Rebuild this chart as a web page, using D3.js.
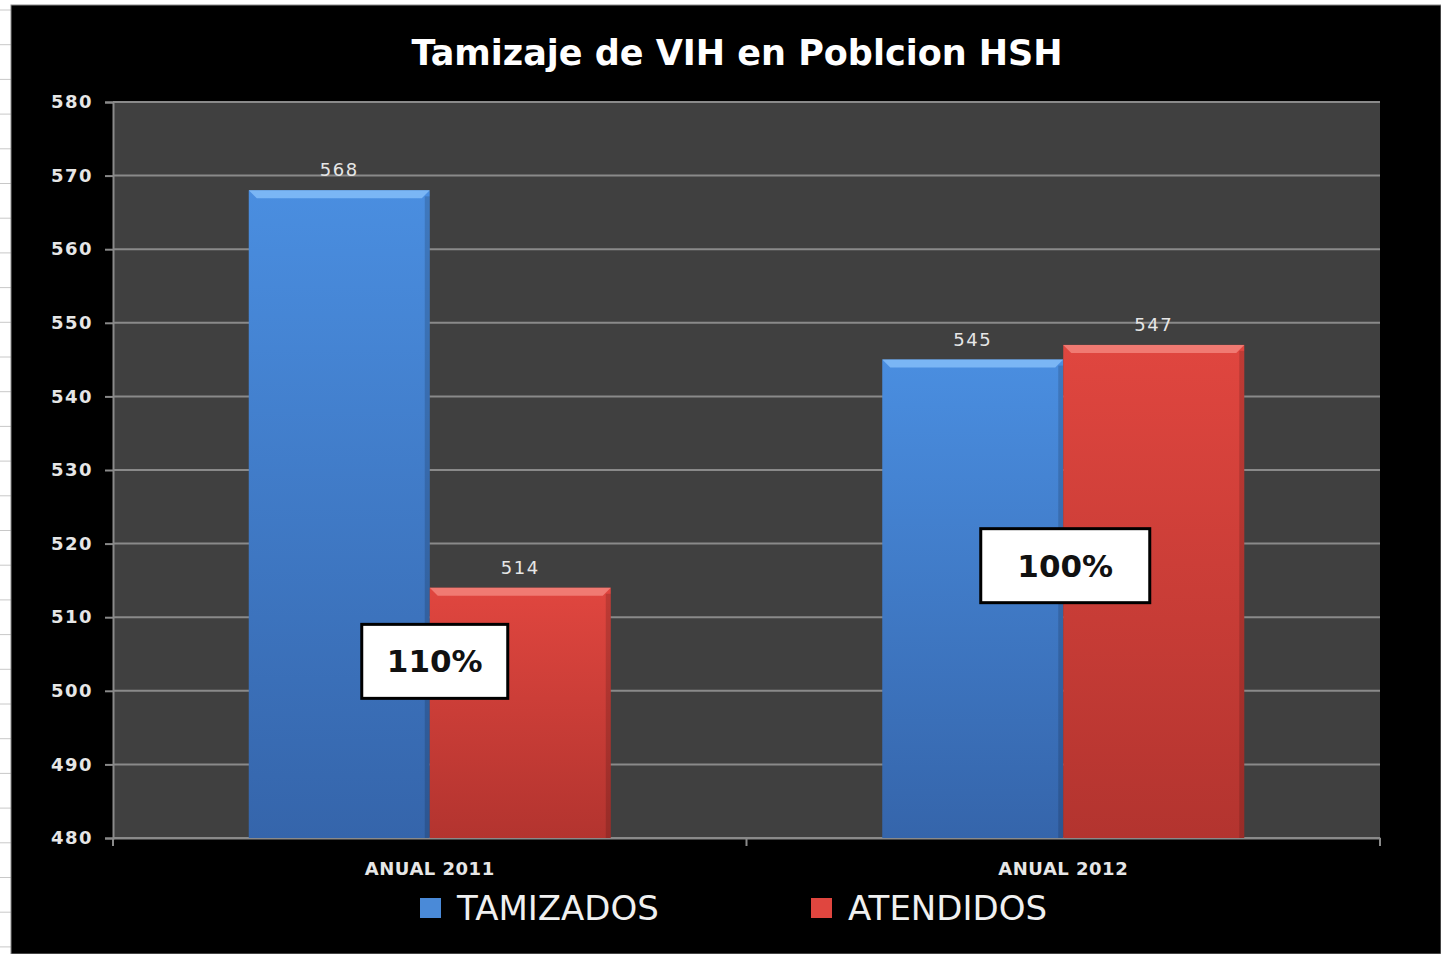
<!DOCTYPE html>
<html>
<head>
<meta charset="utf-8">
<script src="https://cdn.jsdelivr.net/npm/d3@7"></script>
<style>
  html, body { margin: 0; padding: 0; background: #fff; }
  svg { display: block; }
</style>
</head>
<body>
<div id="chart"></div>
<script>
//***************** data *******************/
var categories = ["ANUAL 2011", "ANUAL 2012"];
var seriesNames = ["TAMIZADOS", "ATENDIDOS"];
var tamizados = [568, 545];
var atendidos = [514, 547];
var yTicks = [480, 490, 500, 510, 520, 530, 540, 550, 560, 570, 580];
var boxLabels = ["110%", "100%"];
// which value each annotation box sits at (centre of box)
var boxValues = [504, 517];

//************* set dimensions ***************/
var W = 1441, H = 954;
var margin = {left: 113, right: 61, top: 102, bottom: 116};
var width = W - margin.left - margin.right,
    height = H - margin.top - margin.bottom;

var svg = d3.select("#chart").append("svg")
    .attr("width", W)
    .attr("height", H);

// spreadsheet peeking out on the left / top
svg.append("rect").attr("width", W).attr("height", H).attr("fill", "#fff");
var sheetLines = d3.range(10, H, 34.7);
svg.selectAll(".sheet").data(sheetLines).enter().append("line")
    .attr("x1", 0).attr("x2", 11)
    .attr("y1", function(d) { return d; }).attr("y2", function(d) { return d; })
    .attr("stroke", "#c8c8c8");
svg.append("rect").attr("x", 11).attr("y", 5).attr("width", W - 11).attr("height", H - 5)
    .attr("fill", "#000").attr("stroke", "#888").attr("stroke-width", 1);

var defs = svg.append("defs");
function grad(id, top, bottom) {
  var g = defs.append("linearGradient").attr("id", id)
      .attr("x1", 0).attr("y1", 0).attr("x2", 0).attr("y2", 1);
  g.append("stop").attr("offset", "0%").attr("stop-color", top);
  g.append("stop").attr("offset", "100%").attr("stop-color", bottom);
}
grad("gBlue", "#4a8ee0", "#3565ab");
grad("gRed", "#e0463f", "#b3342f");
var colors = ["url(#gBlue)", "url(#gRed)"];
var bevel = ["#7ab6f5", "#f07a72"];
var legendColors = ["#4a8ad8", "#e0463f"];

var g = svg.append("g")
    .attr("transform", "translate(" + margin.left + "," + margin.top + ")");

// plot background
g.append("rect").attr("width", width).attr("height", height).attr("fill", "#404040");

//***************** scales *******************/
var x0 = d3.scaleBand().domain(categories).range([0, width]).paddingInner(0).paddingOuter(0);
var x1 = d3.scaleBand().domain(seriesNames).range([0, x0.bandwidth()]).paddingInner(0).paddingOuter(0.75);
var y = d3.scaleLinear().domain([480, 580]).range([height, 0]);

var labelFont = "Verdana, 'DejaVu Sans', sans-serif";

// grid
g.selectAll(".grid").data(yTicks).enter().append("line")
    .attr("x1", 0).attr("x2", width)
    .attr("y1", function(d) { return y(d); }).attr("y2", function(d) { return y(d); })
    .attr("stroke", "#8a8a8a").attr("stroke-width", 2);

// y axis
var yAxis = g.append("g")
    .call(d3.axisLeft(y).tickValues(yTicks).tickSize(8).tickPadding(12));
yAxis.select(".domain").attr("stroke", "#8a8a8a").attr("stroke-width", 2);
yAxis.selectAll(".tick line").attr("stroke", "#8a8a8a").attr("stroke-width", 2);
yAxis.selectAll("text").attr("fill", "#e6e6e6")
    .style("font-family", labelFont).style("font-size", "18px").style("font-weight", "bold")
    .style("letter-spacing", "1.5px");

// x axis
var xAxis = g.append("g").attr("transform", "translate(0," + height + ")")
    .call(d3.axisBottom(x0).tickSize(0).tickPadding(24));
xAxis.select(".domain").attr("stroke", "#8a8a8a").attr("stroke-width", 2);
xAxis.selectAll("text").attr("fill", "#e6e6e6")
    .style("font-family", labelFont).style("font-size", "18px").style("font-weight", "bold")
    .style("letter-spacing", "0.5px");
var xBounds = [0, x0.bandwidth(), width];
g.selectAll(".xt").data(xBounds).enter().append("line")
    .attr("x1", function(d) { return d; }).attr("x2", function(d) { return d; })
    .attr("y1", height).attr("y2", height + 8)
    .attr("stroke", "#8a8a8a").attr("stroke-width", 2);

//***************** bars *******************/
var rows = [];
categories.forEach(function(c, i) {
  rows.push({cat: c, s: 0, v: tamizados[i]});
  rows.push({cat: c, s: 1, v: atendidos[i]});
});

var bars = g.selectAll(".bar").data(rows).enter().append("g");
bars.append("rect")
    .attr("x", function(d) { return x0(d.cat) + x1(seriesNames[d.s]); })
    .attr("y", function(d) { return y(d.v); })
    .attr("width", x1.bandwidth())
    .attr("height", function(d) { return height - y(d.v); })
    .attr("fill", function(d) { return colors[d.s]; });
// bevel on top
bars.append("polygon")
    .attr("points", function(d) {
      var l = x0(d.cat) + x1(seriesNames[d.s]), r = l + x1.bandwidth(), t = y(d.v);
      return [[l, t], [r, t], [r - 8, t + 8], [l + 8, t + 8]].join(" ");
    })
    .attr("fill", function(d) { return bevel[d.s]; });
// shaded sides
bars.append("rect")
    .attr("x", function(d) { return x0(d.cat) + x1(seriesNames[d.s]) + x1.bandwidth() - 5; })
    .attr("y", function(d) { return y(d.v) + 6; })
    .attr("width", 5)
    .attr("height", function(d) { return height - y(d.v) - 6; })
    .attr("fill", "#000").attr("opacity", 0.15);

// value labels
bars.append("text")
    .attr("x", function(d) { return x0(d.cat) + x1(seriesNames[d.s]) + x1.bandwidth() / 2; })
    .attr("y", function(d) { return y(d.v) - 14; })
    .attr("text-anchor", "middle")
    .attr("fill", "#e6e6e6")
    .style("font-family", labelFont).style("font-size", "18px")
    .style("letter-spacing", "1.5px")
    .text(function(d) { return d.v; });

//***************** annotation boxes *******************/
var boxes = g.selectAll(".box").data(categories).enter().append("g")
    .attr("transform", function(d, i) {
      return "translate(" + (x0(d) + x0.bandwidth() / 2) + "," + y(boxValues[i]) + ")";
    });
var bw = [146, 169], bh = 74;
boxes.append("rect")
    .attr("x", function(d, i) { return -bw[i] / 2 + (i === 0 ? 5 : 2); })
    .attr("y", -bh / 2)
    .attr("width", function(d, i) { return bw[i]; })
    .attr("height", bh)
    .attr("fill", "#fff").attr("stroke", "#000").attr("stroke-width", 3);
boxes.append("text")
    .attr("x", function(d, i) { return i === 0 ? 5 : 2; })
    .attr("y", 11)
    .attr("text-anchor", "middle")
    .attr("fill", "#111")
    .style("font-family", "'DejaVu Sans', sans-serif").style("font-size", "31px").style("font-weight", "bold")
    .text(function(d, i) { return boxLabels[i]; });

//***************** title *******************/
svg.append("text")
    .attr("x", 737).attr("y", 65)
    .attr("text-anchor", "middle")
    .attr("fill", "#fff")
    .style("font-family", "'DejaVu Sans', sans-serif").style("font-size", "35px").style("font-weight", "bold")
    .text("Tamizaje de VIH en Poblcion HSH");

//***************** legend *******************/
var legendX = [420, 811];
var leg = svg.selectAll(".leg").data(seriesNames).enter().append("g")
    .attr("transform", function(d, i) { return "translate(" + legendX[i] + ",898)"; });
leg.append("rect").attr("width", 21).attr("height", 20)
    .attr("fill", function(d, i) { return legendColors[i]; });
leg.append("text").attr("x", 37).attr("y", 22)
    .attr("fill", "#f0f0f0")
    .style("font-family", "'DejaVu Sans', sans-serif").style("font-size", "34px")
    .text(function(d) { return d; });
</script>
</body>
</html>
